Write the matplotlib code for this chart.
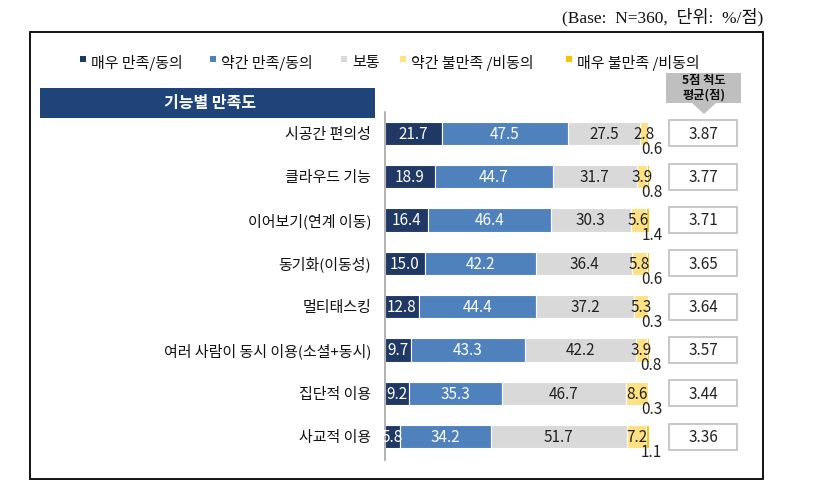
import matplotlib
matplotlib.use("Agg")
import matplotlib.pyplot as plt
from matplotlib.patches import Rectangle, Polygon

plt.rcParams['font.family'] = ['Noto Sans CJK KR', 'DejaVu Sans']

categories = ['시공간 편의성', '클라우드 기능', '이어보기(연계 이동)', '동기화(이동성)',
              '멀티태스킹', '여러 사람이 동시 이용(소셜+동시)', '집단적 이용', '사교적 이용']
very_sat = [21.7, 18.9, 16.4, 15.0, 12.8, 9.7, 9.2, 5.8]
some_sat = [47.5, 44.7, 46.4, 42.2, 44.4, 43.3, 35.3, 34.2]
neutral = [27.5, 31.7, 30.3, 36.4, 37.2, 42.2, 46.7, 51.7]
some_dis = [2.8, 3.9, 5.6, 5.8, 5.3, 3.9, 8.6, 7.2]
very_dis = [0.6, 0.8, 1.4, 0.6, 0.3, 0.8, 0.3, 1.1]
means = [3.87, 3.77, 3.71, 3.65, 3.64, 3.57, 3.44, 3.36]
legend_labels = ['매우 만족/동의', '약간 만족/동의', '보통', '약간 불만족 /비동의', '매우 불만족 /비동의']

colors = ['#203864', '#4F81BD', '#D9D9D9', '#FFE083', '#FFC000']
text_colors = ['white', 'white', '#222222', '#222222']

W, H = 822, 497
fig = plt.figure(figsize=(W / 100, H / 100), dpi=100)


def fx(x):
    return x / W


def fy(y):
    return 1 - y / H


# outer frame
fig.patches.append(Rectangle((fx(29.5), fy(479)), fx(763) - fx(29.5), fy(32) - fy(479),
                             transform=fig.transFigure, fill=False, edgecolor='black', lw=1.3))

fig.text(fx(763), fy(17), '(Base:  N=360,  단위:  %/점)', ha='right', va='center', fontsize=12.5,
         family=['Liberation Serif', 'Noto Sans CJK KR'], color='#111111')

# main axes
ax = fig.add_axes([fx(385), fy(460), fx(649) - fx(385), fy(112) - fy(460)])
ax.set_xlim(0, 100)
ax.set_ylim(7.54, -0.49)
ax.set_facecolor('none')
for s in ['top', 'right', 'bottom']:
    ax.spines[s].set_visible(False)
ax.spines['left'].set_color('#A6A6A6')
ax.spines['left'].set_linewidth(1.2)
ax.set_xticks([])
ax.set_yticks(range(len(categories)))
ax.set_yticklabels(categories, fontsize=10.8, color='#111111')
ax.tick_params(axis='y', length=0, pad=10)

series = [very_sat, some_sat, neutral, some_dis, very_dis]
ypos = list(range(len(categories)))
bh = 0.54
left = [0.0] * len(categories)
for k, vals in enumerate(series):
    ax.barh(ypos, vals, left=left, height=bh, color=colors[k], edgecolor='white', linewidth=0.8)
    for i, v in enumerate(vals):
        c = left[i] + v / 2
        if k < 4:
            ax.text(c, i + 0.02, f'{v:.1f}', ha='center', va='center', fontsize=11,
                    color=text_colors[k])
        else:
            ax.text(left[i] + v + 1.0, i + 0.37, f'{v:.1f}', ha='center', va='center',
                    fontsize=11, color='#222222', clip_on=False)
    left = [left[i] + vals[i] for i in range(len(vals))]

# mean boxes
bx0 = (669 - 385) / 2.64
bx1 = (737 - 385) / 2.64
for i, m in enumerate(means):
    ax.add_patch(Rectangle((bx0, i - 0.3), bx1 - bx0, 0.6, facecolor='white',
                           edgecolor='#BFBFBF', lw=1.2, clip_on=False))
    ax.text((bx0 + bx1) / 2, i + 0.02, f'{m:.2f}', ha='center', va='center', fontsize=11,
            color='#222222', clip_on=False)

# mean header with arrow
hdr = Polygon([(fx(666), fy(73)), (fx(741), fy(73)), (fx(741), fy(103)), (fx(716), fy(103)),
               (fx(704), fy(114)), (fx(692), fy(103)), (fx(666), fy(103))],
              closed=True, transform=fig.transFigure, facecolor='#BFBFBF', edgecolor='none')
fig.patches.append(hdr)
fig.text(fx(703.5), fy(88), '5점 척도\n평균(점)', ha='center', va='center', fontsize=8.8,
         fontweight='bold', color='#111111', linespacing=1.15)

# left header box
fig.patches.append(Rectangle((fx(40), fy(118)), fx(375) - fx(40), fy(88) - fy(118),
                             transform=fig.transFigure, facecolor='#1F447A', edgecolor='none'))
fig.text(fx(210), fy(103), '기능별 만족도', ha='center', va='center', fontsize=11.5,
         fontweight='bold', color='white')

# legend
lx = [83, 213, 344, 403, 569]
for k, lab in enumerate(legend_labels):
    fig.patches.append(Rectangle((fx(lx[k] - 3), fy(62)), fx(6), fy(56) - fy(62),
                                 transform=fig.transFigure, facecolor=colors[k], edgecolor='none'))
    fig.text(fx(lx[k] + 8), fy(63), lab, ha='left', va='center', fontsize=10.8, color='#111111')

fig.savefig('out.png', dpi=100)
